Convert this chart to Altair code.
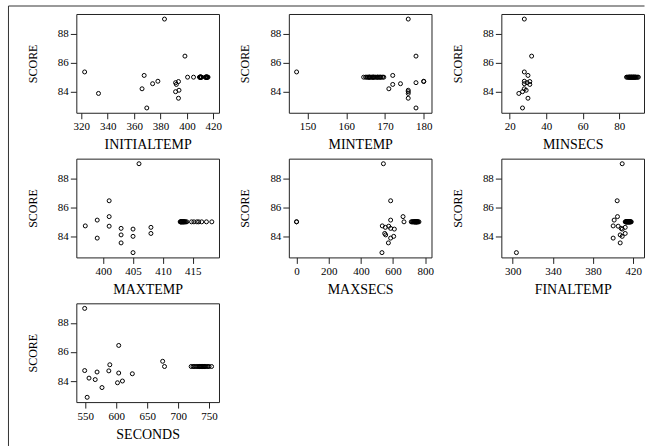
import altair as alt
import pandas as pd

# ---- data ----
SCORE_MAIN = [89.0, 86.45, 85.36, 85.12, 84.72, 84.70, 84.62, 84.55, 84.50,
              84.20, 84.10, 84.00, 83.88, 83.55, 82.88]
INITIALTEMP_MAIN = [383, 398.5, 322.5, 367.6, 378, 393.6, 391.4, 374, 392,
                    366, 394, 391.4, 333, 393.6, 369.6]
MINTEMP_MAIN = [176, 178, 147.2, 172, 180, 180, 178, 174, 172,
                171, 176, 176, 176, 176, 178]
MINSECS_MAIN = [28, 32, 28, 30, 28, 31, 29.5, 28, 31,
                28, 29, 27, 25, 30, 27]
MAXTEMP_MAIN = [406, 401, 401, 399, 397, 401, 408, 403, 405,
                408, 403, 405, 399, 403, 405]
MAXSECS_MAIN = [540, 585, 662, 585, 533, 573, 552, 585, 608,
                548, 554, 604, 585, 571, 531]
FINALTEMP_MAIN = [409, 404, 404.3, 401, 400, 405, 412, 408, 409,
                  412, 407, 409, 400, 407, 303.7]
SECONDS_MAIN = [549, 604, 675, 589.6, 549, 588, 569, 604, 626,
                556, 566, 610, 602, 577, 553]

# observations with SCORE = 85
SCORE_85 = [85.0] * 22
INITIALTEMP_85 = [400.5, 405, 409.5, 410, 410, 410.5, 411, 410, 414, 414.5, 415,
                  415, 415.5, 416, 415, 414, 410, 415, 410.5, 415.5, 411, 414.5]
MINTEMP_85 = [164.5, 165, 165.3, 165.6, 166, 166.3, 166.6, 167, 167.3, 167.6, 168,
              168.3, 168.6, 169, 169.4, 169.7, 166, 167, 168, 165.8, 166.8, 168.8]
MINSECS_85 = [84, 84.5, 85, 85.3, 85.6, 86, 86.3, 86.6, 87, 87.3, 87.6,
              88, 88.3, 88.6, 89, 89.5, 90, 90.5, 85.8, 86.8, 87.8, 88.8]
MAXTEMP_85 = [412.9, 413, 413, 413.1, 413.2, 413.3, 413.4, 413.5, 413.6, 413.8, 414,
              414.8, 415.2, 415.7, 416, 416.5, 417.3, 418.2, 413.1, 413.3, 413.5, 413.7]
MAXSECS_85 = [0, 0, 668, 713, 718, 722, 726, 730, 734, 738, 741,
              744, 747, 750, 753, 756, 761, 736, 740, 745, 732, 748]
FINALTEMP_85 = [412, 412.5, 413, 413.3, 413.6, 414, 414.3, 414.6, 415, 415.3, 415.6,
                416, 416.3, 416.6, 417, 417.5, 418, 414.8, 415.8, 413.8, 416.8, 412.8]
SECONDS_85 = [721, 724, 678, 726, 728, 730, 732, 734, 736, 738, 740,
              742, 744, 746, 748, 750, 754, 735, 737, 739, 741, 743]

df = pd.DataFrame({
    "SCORE": SCORE_MAIN + SCORE_85,
    "INITIALTEMP": INITIALTEMP_MAIN + INITIALTEMP_85,
    "MINTEMP": MINTEMP_MAIN + MINTEMP_85,
    "MINSECS": MINSECS_MAIN + MINSECS_85,
    "MAXTEMP": MAXTEMP_MAIN + MAXTEMP_85,
    "MAXSECS": MAXSECS_MAIN + MAXSECS_85,
    "FINALTEMP": FINALTEMP_MAIN + FINALTEMP_85,
    "SECONDS": SECONDS_MAIN + SECONDS_85,
})

PANELS = [
    ("INITIALTEMP", [316.2, 424.3], [320, 340, 360, 380, 400, 420]),
    ("MINTEMP", [145.2, 182.0], [150, 160, 170, 180]),
    ("MINSECS", [15.4, 93.6], [20, 40, 60, 80]),
    ("MAXTEMP", [395.5, 419.4], [400, 405, 410, 415]),
    ("MAXSECS", [-48, 839], [0, 200, 400, 600, 800]),
    ("FINALTEMP", [288.7, 430.7], [300, 340, 380, 420]),
    ("SECONDS", [535.5, 766], [550, 600, 650, 700, 750]),
]
Y_DOMAIN = [82.55, 89.35]
Y_TICKS = [84, 86, 88]

FONT = "Liberation Serif"
W, H = 143, 99


def panel(var, dom, ticks):
    return alt.Chart(df).mark_point(
        shape="circle", filled=False, size=16, strokeWidth=1, color="black", opacity=1
    ).encode(
        x=alt.X(var, type="quantitative",
                scale=alt.Scale(domain=dom, nice=False, zero=False),
                axis=alt.Axis(values=ticks, title=var, format="d",
                              titleY=36, titleBaseline="alphabetic")),
        y=alt.Y("SCORE", type="quantitative",
                scale=alt.Scale(domain=Y_DOMAIN, nice=False, zero=False),
                axis=alt.Axis(values=Y_TICKS, title="SCORE", format="d",
                              titleX=-44, titleBaseline="middle",
                              titleFontSize=12)),
    ).properties(width=W, height=H)


charts = [panel(*p) for p in PANELS]

# outer figure border (top and left lines), drawn relative to the first panel
border_src = alt.Data(values=[{"k": 1}])
top_line = alt.Chart(border_src).mark_rule(color="#333333", strokeWidth=1).encode(
    x=alt.value(-68), x2=alt.value(569.5), y=alt.value(-8))
left_line = alt.Chart(border_src).mark_rule(color="#333333", strokeWidth=1).encode(
    x=alt.value(-68), y=alt.value(-8), y2=alt.value(433))
charts[0] = alt.layer(top_line, left_line, charts[0]).properties(width=W, height=H)

chart = alt.concat(
    *charts, columns=3, spacing={"row": 46, "column": 70}, bounds="flush"
).properties(
    padding={"left": 7.5, "top": 4.5, "right": 0, "bottom": 0},
    background="white",
).configure_view(
    stroke="#222222", strokeWidth=1
).configure_axis(
    domain=False, grid=False,
    tickColor="#222222", tickSize=6, tickWidth=1,
    labelFont=FONT, labelFontSize=11, labelColor="black", labelPadding=2,
    titleFont=FONT, titleFontSize=14, titleFontWeight="normal", titleColor="black",
)

chart.save("out.html", embed_options={"renderer": "svg", "actions": False})
